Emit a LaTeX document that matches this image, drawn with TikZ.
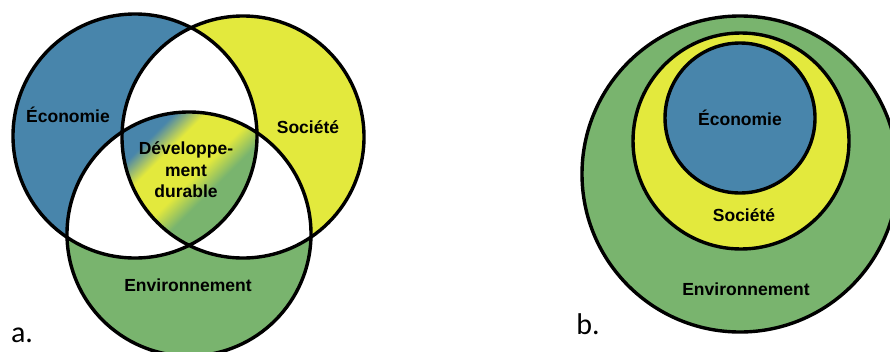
\documentclass[tikz,border=0pt]{standalone}
\usepackage{fontspec}
\setmainfont{Liberation Sans}
\newfontfamily\tagfont{Carlito}
\definecolor{ecoblue}{HTML}{4885AB}
\definecolor{socyellow}{HTML}{E3E93D}
\definecolor{envgreen}{HTML}{79B46E}
\pgfdeclarehorizontalshading{durable}{100bp}{color(0bp)=(ecoblue); color(29bp)=(ecoblue); color(37bp)=(socyellow); color(50bp)=(socyellow); color(58bp)=(envgreen); color(100bp)=(envgreen)}
\begin{document}
\begin{tikzpicture}[x=1pt, y=-1pt,
    ring/.style={draw=black, line width=3.4pt},
    lab/.style={font=\fontsize{17.5}{21.5}\selectfont\bfseries, align=center, inner sep=0pt},
    tag/.style={font=\tagfont\fontsize{30}{32}\selectfont, inner sep=0pt}]
    \useasboundingbox (0,0) rectangle (890,351);
    % a. Venn diagram
    \coordinate (eco) at (135,136);
    \coordinate (soc) at (243,137);
    \coordinate (env) at (189,234);
    \fill[ecoblue] (eco) circle (122pt);
    \fill[socyellow] (soc) circle (121pt);
    \fill[envgreen] (env) circle (122pt);
    \begin{scope}
        \clip (eco) circle (122pt);
        \fill[white] (soc) circle (121pt);
        \fill[white] (env) circle (122pt);
    \end{scope}
    \begin{scope}
        \clip (soc) circle (121pt);
        \fill[white] (env) circle (122pt);
    \end{scope}
    \begin{scope}
        \clip (eco) circle (122pt);
        \clip (soc) circle (121pt);
        \clip (env) circle (122pt);
        \shade[shading=durable, shading angle=-45] (120,110) rectangle (260,250);
    \end{scope}
    \draw[ring] (eco) circle (122pt);
    \draw[ring] (soc) circle (121pt);
    \draw[ring] (env) circle (122pt);
    \node[lab] (ecolab) at (68,115) {Économie};
    \node[lab] (soclab) at (308,127) {Société};
    \node[lab] (ddlab) at (186,170) {Développe-\\ment\\durable};
    \node[lab] (envlab) at (188,285) {Environnement};
    \node[tag] (taga) at (22,335) {a.};
    % b. nested circles
    \coordinate (envb) at (740,174);
    \coordinate (socb) at (741,141);
    \coordinate (ecob) at (740,118);
    \draw[ring, fill=envgreen] (envb) circle (158pt);
    \draw[ring, fill=socyellow] (socb) circle (108pt);
    \draw[ring, fill=ecoblue] (ecob) circle (75pt);
    \node[lab] (ecolabb) at (740,118) {Économie};
    \node[lab] (soclabb) at (744,215) {Société};
    \node[lab] (envlabb) at (746,289) {Environnement};
    \node[tag] (tagb) at (588,324) {b.};
\end{tikzpicture}
\end{document}
